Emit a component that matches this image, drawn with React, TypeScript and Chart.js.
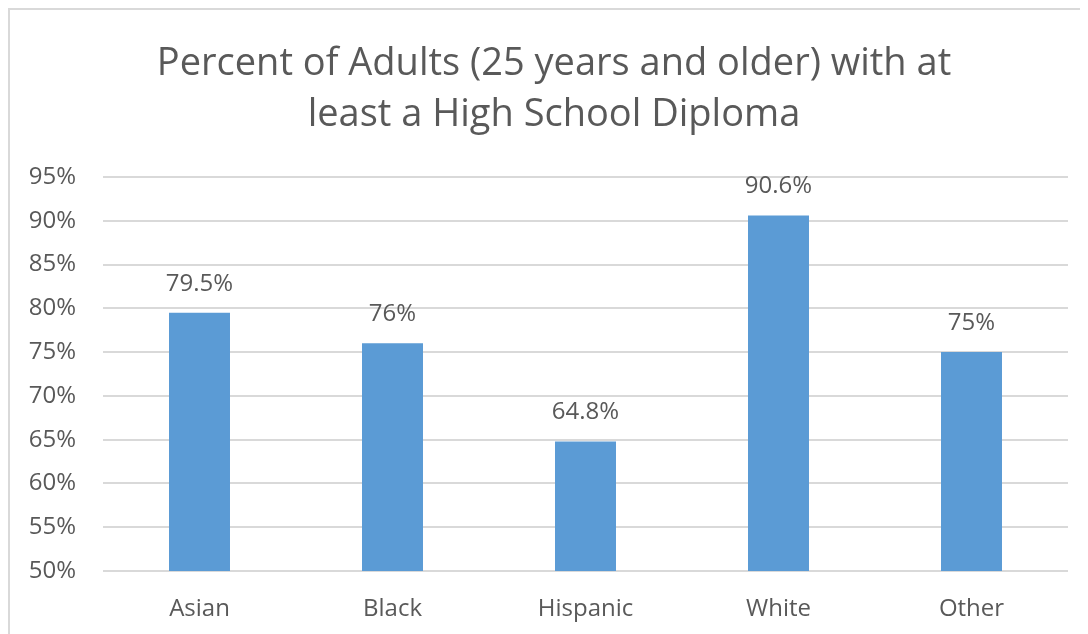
import React, { useEffect, useRef } from "react";
import { Chart, registerables } from "chart.js";

Chart.register(...registerables);

const categories = ["Asian", "Black", "Hispanic", "White", "Other"];
const values = [79.5, 76, 64.8, 90.6, 75];
const titleLines = ["Percent of Adults (25 years and older) with at", "least a High School Diploma"];
const yMin = 50;
const yMax = 95;
const yStep = 5;

const TEXT = "#595959";
const FONT = "'Open Sans', sans-serif";

const titlePlugin = {
  id: "customTitle",
  afterDraw(chart: any) {
    const ctx = chart.ctx;
    ctx.save();
    ctx.fillStyle = TEXT;
    ctx.font = `38px ${FONT}`;
    ctx.textAlign = "center";
    ctx.textBaseline = "middle";
    titleLines.forEach((line, i) => {
      ctx.fillText(line, 544, 54 + i * 51);
    });
    ctx.restore();
  },
};

const labelPlugin = {
  id: "barLabels",
  afterDatasetsDraw(chart: any) {
    const ctx = chart.ctx;
    const meta = chart.getDatasetMeta(0);
    ctx.save();
    ctx.fillStyle = TEXT;
    ctx.font = `24px ${FONT}`;
    ctx.textAlign = "center";
    ctx.textBaseline = "middle";
    meta.data.forEach((bar: any, i: number) => {
      ctx.fillText(`${values[i]}%`, bar.x, bar.y - 29);
    });
    ctx.restore();
  },
};

export default function App() {
  const ref = useRef<HTMLCanvasElement>(null);
  useEffect(() => {
    if (!ref.current) return;
    const chart = new Chart(ref.current, {
      type: "bar",
      data: {
        labels: categories,
        datasets: [
          {
            data: values,
            backgroundColor: "#5b9bd5",
            barPercentage: 0.316,
            categoryPercentage: 1,
          },
        ],
      },
      options: {
        animation: false,
        responsive: false,
        layout: { padding: { top: 167, right: 20, bottom: 0, left: 0 } },
        plugins: { legend: { display: false }, title: { display: false }, tooltip: { enabled: false } },
        scales: {
          x: {
            grid: { display: false, drawTicks: false },
            border: { display: false },
            ticks: { color: TEXT, font: { family: FONT, size: 24 }, padding: 24, maxRotation: 0 },
            afterFit(scale: any) {
              scale.height = 63;
            },
          },
          y: {
            min: yMin,
            max: yMax,
            grid: { color: "#d9d9d9", lineWidth: 2, drawTicks: false },
            border: { display: false },
            ticks: {
              stepSize: yStep,
              color: TEXT,
              font: { family: FONT, size: 24 },
              padding: 27,
              callback: (v: any) => `${v}%`,
            },
            afterFit(scale: any) {
              scale.width = 93;
            },
          },
        },
      },
      plugins: [titlePlugin, labelPlugin],
    });
    return () => chart.destroy();
  }, []);
  return (
    <div
      style={{
        width: 1078,
        height: 624,
        borderLeft: "2px solid #d9d9d9",
        borderTop: "2px solid #d9d9d9",
        background: "#fff",
      }}
    >
      <canvas ref={ref} width={1078} height={624} style={{ display: "block" }} />
    </div>
  );
}
